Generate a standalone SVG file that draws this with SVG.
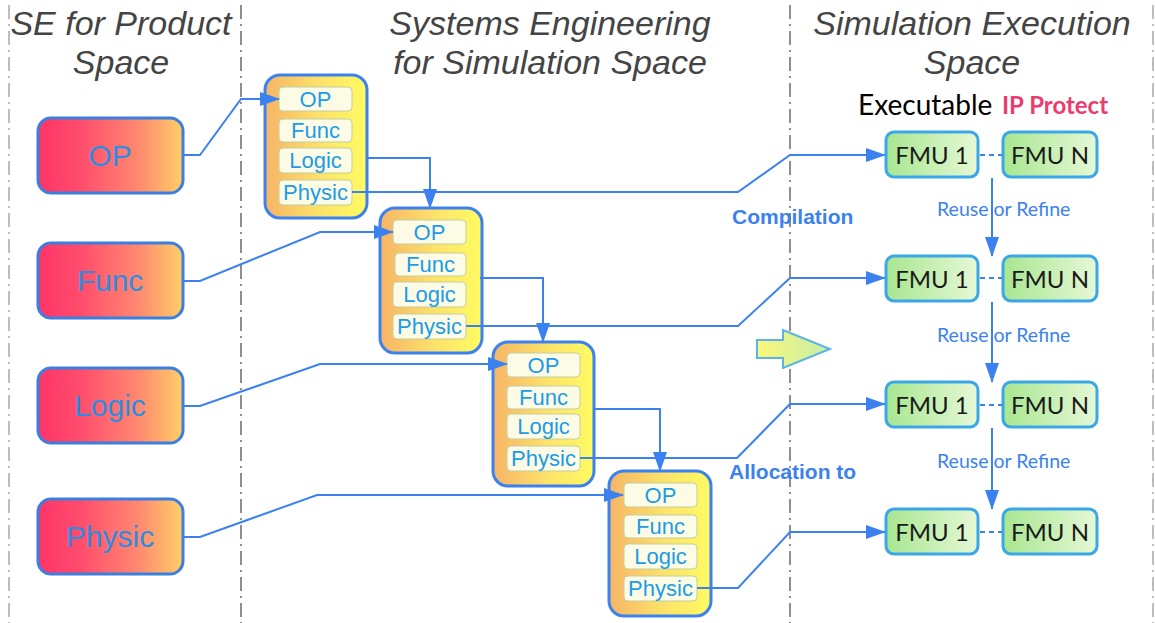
<svg xmlns="http://www.w3.org/2000/svg" width="1155" height="623" viewBox="0 0 1155 623">
<style>
.sep{stroke:#555;stroke-width:1.3;stroke-dasharray:14 5 2 5;fill:none}
.sepl{stroke:#888;stroke-width:1.1;stroke-dasharray:14 5 2 5;fill:none}
.head{font-family:"Liberation Sans",Arial,sans-serif;font-style:italic;font-size:34px;fill:#444;text-anchor:middle}
.lbox{fill:url(#gL);stroke:#3b7fe0;stroke-width:3}
.ltxt{font-family:"Liberation Sans",Arial,sans-serif;font-size:30px;fill:#2f8ce0;text-anchor:middle}
.blk{fill:url(#gB);stroke:#3b82f0;stroke-width:3}
.sub{fill:#fbfbe6;stroke:#c2cfa0;stroke-width:1}
.stxt{font-family:"Liberation Sans",Arial,sans-serif;font-size:22px;fill:#1e9be6;text-anchor:middle}
.fmu{fill:url(#gF);stroke:#3aa8e8;stroke-width:3}
.ftxt{font-family:Lato,"Liberation Sans",sans-serif;font-size:24px;fill:#1a1a1a;text-anchor:middle}
.conn{stroke:#3b82f0;stroke-width:2;fill:none}
.dot{stroke:#3b82f0;stroke-width:2;stroke-dasharray:5 4;fill:none}
.rr{font-family:Lato,"Liberation Sans",sans-serif;font-size:19.5px;fill:#3b82f0}
.bl{font-family:"Liberation Sans",Arial,sans-serif;font-size:21px;font-weight:bold;fill:#3b82f0}
</style>
<defs>
<linearGradient id="gL" x1="0" y1="0" x2="1" y2="0">
<stop offset="0" stop-color="#ff3468"/><stop offset="0.3" stop-color="#ff4d6c"/><stop offset="0.7" stop-color="#ff8a70"/><stop offset="1" stop-color="#ffcf66"/>
</linearGradient>
<linearGradient id="gB" x1="0" y1="0" x2="1" y2="0">
<stop offset="0" stop-color="#f6b466"/><stop offset="0.55" stop-color="#fde36a"/><stop offset="1" stop-color="#fffb62"/>
</linearGradient>
<linearGradient id="gF" x1="0" y1="0" x2="1" y2="0">
<stop offset="0" stop-color="#a8e690"/><stop offset="1" stop-color="#e6f8d6"/>
</linearGradient>
<linearGradient id="gA" x1="0" y1="0" x2="1" y2="0">
<stop offset="0" stop-color="#fbf77a"/><stop offset="1" stop-color="#c4eea6"/>
</linearGradient>
<marker id="ah" viewBox="0 0 20 14" refX="19" refY="7" markerWidth="10" markerHeight="7" orient="auto">
<path d="M0,0 L20,7 L0,14 z" fill="#3b82f0" stroke="none"/>
</marker>
</defs>
<rect width="1155" height="623" fill="#fff"/>

<g id="separators">
<line class="sepl" x1="9" y1="5" x2="9" y2="623"/>
<line class="sep" x1="241" y1="5" x2="241" y2="623"/>
<line class="sep" x1="790" y1="5" x2="790" y2="623"/>
<line class="sepl" x1="1153" y1="5" x2="1153" y2="623"/>
</g>

<g id="headings">
<text class="head" x="121" y="35">SE for Product</text>
<text class="head" x="121" y="74">Space</text>
<text class="head" x="550" y="35">Systems Engineering</text>
<text class="head" x="550" y="74">for Simulation Space</text>
<text class="head" x="972" y="35">Simulation Execution</text>
<text class="head" x="972" y="74">Space</text>
<text x="858" y="115" font-family="Lato,'Liberation Sans',sans-serif" font-size="28" fill="#000">Executable</text>
<text x="1002" y="114" font-family="Lato,'Liberation Sans',sans-serif" font-size="24" font-weight="bold" fill="#ea3d6e">IP Protect</text>
</g>

<g id="prod-op"><rect class="lbox" x="38" y="118" width="145" height="75" rx="13"/><text class="ltxt" x="110" y="166">OP</text></g>
<g id="prod-func"><rect class="lbox" x="38" y="243" width="145" height="75" rx="13"/><text class="ltxt" x="110" y="291">Func</text></g>
<g id="prod-logic"><rect class="lbox" x="38" y="368" width="145" height="75" rx="13"/><text class="ltxt" x="110" y="416">Logic</text></g>
<g id="prod-physic"><rect class="lbox" x="38" y="499" width="145" height="75" rx="13"/><text class="ltxt" x="110" y="547">Physic</text></g>

<g id="sim-op">
<rect class="blk" x="265" y="75" width="102" height="143" rx="15"/>
<rect class="sub" x="279" y="87" width="73" height="24" rx="4"/><text class="stxt" x="315.5" y="107">OP</text>
<rect class="sub" x="279" y="119" width="73" height="23" rx="4"/><text class="stxt" x="315.5" y="138">Func</text>
<rect class="sub" x="279" y="148" width="73" height="25" rx="4"/><text class="stxt" x="315.5" y="168">Logic</text>
<rect class="sub" x="279" y="180" width="73" height="25" rx="4"/><text class="stxt" x="315.5" y="200">Physic</text>
</g>
<g id="sim-func">
<rect class="blk" x="380" y="208" width="102" height="145" rx="15"/>
<rect class="sub" x="393" y="220" width="73" height="24" rx="4"/><text class="stxt" x="429.5" y="240">OP</text>
<rect class="sub" x="395" y="253" width="71" height="23" rx="4"/><text class="stxt" x="430.5" y="272">Func</text>
<rect class="sub" x="393" y="282" width="73" height="25" rx="4"/><text class="stxt" x="429.5" y="302">Logic</text>
<rect class="sub" x="393" y="314" width="73" height="25" rx="4"/><text class="stxt" x="429.5" y="334">Physic</text>
</g>
<g id="sim-logic">
<rect class="blk" x="493" y="342" width="101" height="144" rx="15"/>
<rect class="sub" x="507" y="353" width="73" height="24" rx="4"/><text class="stxt" x="543.5" y="373">OP</text>
<rect class="sub" x="507" y="386" width="73" height="23" rx="4"/><text class="stxt" x="543.5" y="405">Func</text>
<rect class="sub" x="507" y="414" width="73" height="25" rx="4"/><text class="stxt" x="543.5" y="434">Logic</text>
<rect class="sub" x="507" y="446" width="73" height="25" rx="4"/><text class="stxt" x="543.5" y="466">Physic</text>
</g>
<g id="sim-physic">
<rect class="blk" x="609" y="471" width="102" height="145" rx="15"/>
<rect class="sub" x="624" y="483" width="73" height="24" rx="4"/><text class="stxt" x="660.5" y="503">OP</text>
<rect class="sub" x="624" y="515" width="73" height="23" rx="4"/><text class="stxt" x="660.5" y="534">Func</text>
<rect class="sub" x="624" y="544" width="73" height="25" rx="4"/><text class="stxt" x="660.5" y="564">Logic</text>
<rect class="sub" x="624" y="576" width="73" height="25" rx="4"/><text class="stxt" x="660.5" y="596">Physic</text>
</g>

<g id="fmu-row1"><rect class="fmu" x="886" y="132" width="92" height="45" rx="8"/><text class="ftxt" x="932" y="164">FMU 1</text><rect class="fmu" x="1003" y="132" width="94" height="45" rx="8"/><text class="ftxt" x="1050" y="164">FMU N</text></g>
<g id="fmu-row2"><rect class="fmu" x="886" y="256" width="92" height="45" rx="8"/><text class="ftxt" x="932" y="288">FMU 1</text><rect class="fmu" x="1003" y="256" width="94" height="45" rx="8"/><text class="ftxt" x="1050" y="288">FMU N</text></g>
<g id="fmu-row3"><rect class="fmu" x="886" y="382" width="92" height="45" rx="8"/><text class="ftxt" x="932" y="414">FMU 1</text><rect class="fmu" x="1003" y="382" width="94" height="45" rx="8"/><text class="ftxt" x="1050" y="414">FMU N</text></g>
<g id="fmu-row4"><rect class="fmu" x="886" y="509" width="92" height="45" rx="8"/><text class="ftxt" x="932" y="541">FMU 1</text><rect class="fmu" x="1003" y="509" width="94" height="45" rx="8"/><text class="ftxt" x="1050" y="541">FMU N</text></g>

<g id="big-arrow">
<path d="M757,340 L783,340 L783,330 L830,349 L783,368 L783,358 L757,358 z" fill="url(#gA)" stroke="#5ab4e8" stroke-width="2" stroke-linejoin="miter"/>
</g>

<g id="connectors">
<polyline class="conn" points="183,155 200,155 241,99 279,99" marker-end="url(#ah)"/>
<polyline class="conn" points="183,281 200,281 320,232 393,232" marker-end="url(#ah)"/>
<polyline class="conn" points="183,406 200,406 320,364 507,364" marker-end="url(#ah)"/>
<polyline class="conn" points="183,537 200,537 317,495 623,495" marker-end="url(#ah)"/>
<polyline class="conn" points="367,158 430,158 430,208" marker-end="url(#ah)"/>
<polyline class="conn" points="480,278 543,278 543,342" marker-end="url(#ah)"/>
<polyline class="conn" points="594,409 660,409 660,471" marker-end="url(#ah)"/>
<polyline class="conn" points="352,192 738,192 790,155 885,155" marker-end="url(#ah)"/>
<polyline class="conn" points="466,326 738,326 790,278 885,278" marker-end="url(#ah)"/>
<polyline class="conn" points="580,458 737,458 790,404 885,404" marker-end="url(#ah)"/>
<polyline class="conn" points="697,588 738,588 790,532 885,532" marker-end="url(#ah)"/>
<line class="conn" x1="992" y1="178" x2="992" y2="256" marker-end="url(#ah)"/>
<line class="conn" x1="992" y1="302" x2="992" y2="382" marker-end="url(#ah)"/>
<line class="conn" x1="992" y1="428" x2="992" y2="509" marker-end="url(#ah)"/>
<line class="dot" x1="980" y1="155" x2="1002" y2="155"/>
<line class="dot" x1="980" y1="278" x2="1002" y2="278"/>
<line class="dot" x1="980" y1="405" x2="1002" y2="405"/>
<line class="dot" x1="980" y1="532" x2="1002" y2="532"/>
<text class="rr" x="937" y="216">Reuse or Refine</text>
<text class="rr" x="937" y="342">Reuse or Refine</text>
<text class="rr" x="937" y="468">Reuse or Refine</text>
<text class="bl" x="732" y="224">Compilation</text>
<text class="bl" x="729" y="479">Allocation to</text>
</g>
</svg>
